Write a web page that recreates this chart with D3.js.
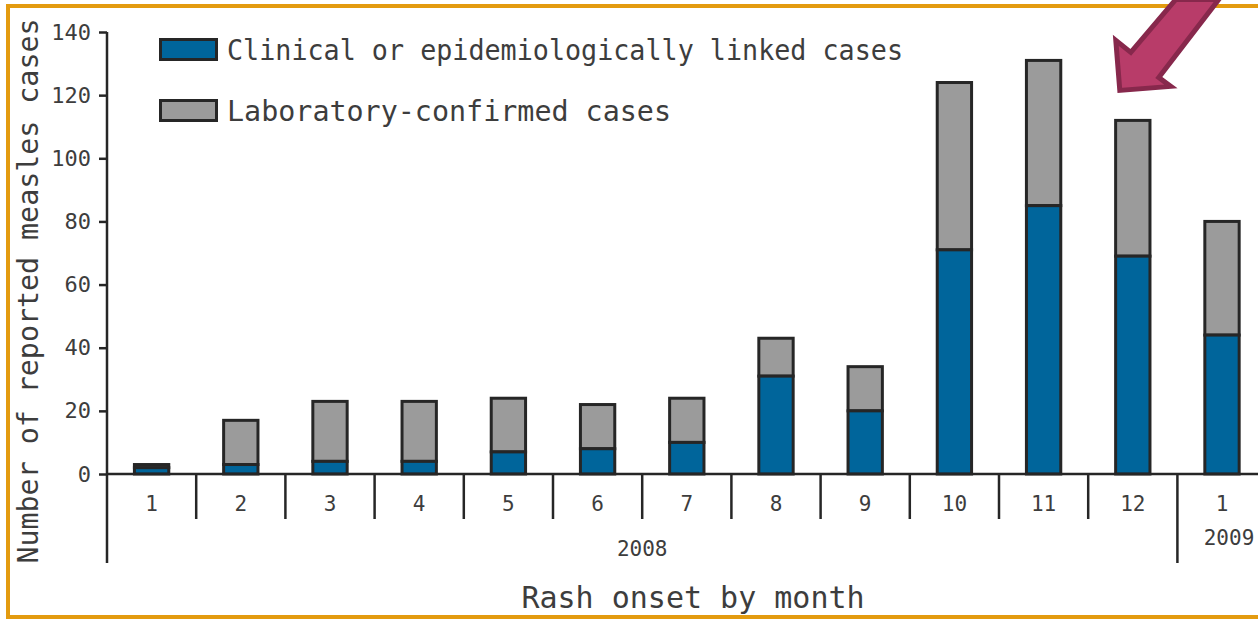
<!DOCTYPE html>
<html>
<head>
<meta charset="utf-8">
<script src="https://cdn.jsdelivr.net/npm/d3@7"></script>
<style>
  body { margin: 0; background: #fff; }
  svg { display: block; }
  text { font-family: "DejaVu Sans Mono", monospace; fill: #3d3d3d; }
</style>
</head>
<body>
<svg class="chart" width="1258" height="619"></svg>
<script>
// categories (month keys) and their labels
var monthKeys = ["2008-01","2008-02","2008-03","2008-04","2008-05","2008-06","2008-07",
                 "2008-08","2008-09","2008-10","2008-11","2008-12","2009-01"];
var monthLabels = ["1","2","3","4","5","6","7","8","9","10","11","12","1"];
var years = ["2008","2009"];
// series values
var clinicalCases = [2, 3, 4, 4, 7, 8, 10, 31, 20, 71, 85, 69, 44];
var labCases      = [1, 14, 19, 19, 17, 14, 14, 12, 14, 53, 46, 43, 36];
var yTicks = [0, 20, 40, 60, 80, 100, 120, 140];
var seriesNames = ["Clinical or epidemiologically linked cases", "Laboratory-confirmed cases"];

var blue = "#00659b", grey = "#9b9b9b", ink = "#262626", orange = "#e39b10";

var chart = d3.select('.chart');

// outer frame
chart.append('path')
	.attr('d', 'M1262,6 L8,6 L8,617 L1262,617')
	.attr('fill', 'none')
	.attr('stroke', orange)
	.attr('stroke-width', 4);

var x0 = 107, yBase = 474, yTop = 32;
var x = d3.scaleBand()
	.domain(monthKeys)
	.range([x0, x0 + 13 * 89.2])
	.padding(0);
var y = d3.scaleLinear()
	.domain([0, 140])
	.range([yBase, yTop]);

var barW = x.bandwidth() * 0.385;

var data = monthKeys.map(function(k, i){
	return {key: k, clin: clinicalCases[i], lab: labCases[i]};
});

// bars
var g = chart.append('g');
data.forEach(function(d){
	var cx = x(d.key) + x.bandwidth() / 2;
	g.append('rect')
		.attr('x', cx - barW / 2)
		.attr('width', barW)
		.attr('y', y(d.clin + d.lab))
		.attr('height', y(d.clin) - y(d.clin + d.lab))
		.attr('fill', grey)
		.attr('stroke', ink)
		.attr('stroke-width', 3);
	g.append('rect')
		.attr('x', cx - barW / 2)
		.attr('width', barW)
		.attr('y', y(d.clin))
		.attr('height', y(0) - y(d.clin))
		.attr('fill', blue)
		.attr('stroke', ink)
		.attr('stroke-width', 3);
});

// y axis
var yAxis = d3.axisLeft(y).tickValues(yTicks).tickSize(8).tickPadding(8);
var ya = chart.append('g')
	.attr('class', 'y axis')
	.attr('transform', 'translate(' + x0 + ',0)')
	.call(yAxis);
ya.select('.domain').remove();
ya.selectAll('line').attr('stroke', ink).attr('stroke-width', 2.5);
ya.selectAll('text')
	.attr('font-size', '22px')
	.style('font-family', '"DejaVu Sans Mono", monospace')
	.attr('fill', '#3d3d3d');
chart.append('line')
	.attr('x1', x0).attr('x2', x0)
	.attr('y1', y(140)).attr('y2', 563)
	.attr('stroke', ink).attr('stroke-width', 2.5);

// x axis line and month separators
chart.append('line')
	.attr('x1', x0).attr('x2', 1262)
	.attr('y1', y(0)).attr('y2', y(0))
	.attr('stroke', ink).attr('stroke-width', 2.5);
monthKeys.slice(1).forEach(function(k){
	var isYear = k.slice(5) === "01";
	chart.append('line')
		.attr('x1', x(k)).attr('x2', x(k))
		.attr('y1', y(0)).attr('y2', isYear ? 563 : 519)
		.attr('stroke', ink).attr('stroke-width', 2.5);
});
monthKeys.forEach(function(k, i){
	chart.append('text')
		.attr('x', x(k) + x.bandwidth() / 2)
		.attr('y', 511)
		.attr('text-anchor', 'middle')
		.attr('font-size', '21px')
		.text(monthLabels[i]);
});
chart.append('text')
	.attr('x', (x0 + x("2009-01")) / 2)
	.attr('y', 556)
	.attr('text-anchor', 'middle')
	.attr('font-size', '21px')
	.text(years[0]);
chart.append('text')
	.attr('x', x("2009-01") + x.bandwidth() / 2 + 7)
	.attr('y', 545)
	.attr('text-anchor', 'middle')
	.attr('font-size', '21px')
	.text(years[1]);

// axis titles
chart.append('text')
	.attr('x', 693)
	.attr('y', 608)
	.attr('text-anchor', 'middle')
	.attr('font-size', '30px')
	.text('Rash onset by month');
chart.append('text')
	.attr('transform', 'translate(38,291) rotate(-90)')
	.attr('text-anchor', 'middle')
	.attr('font-size', '29px')
	.attr('textLength', 545)
	.attr('lengthAdjust', 'spacingAndGlyphs')
	.text('Number of reported measles cases');

// legend
var legend = chart.append('g');
[blue, grey].forEach(function(c, i){
	legend.append('rect')
		.attr('x', 160.5).attr('y', 39.5 + i * 61)
		.attr('width', 56).attr('height', 20)
		.attr('fill', c).attr('stroke', ink).attr('stroke-width', 3);
	legend.append('text')
		.attr('x', 227).attr('y', 60 + i * 61)
		.attr('font-size', '29px')
		.attr('textLength', i === 0 ? 676 : 444)
		.attr('lengthAdjust', 'spacingAndGlyphs')
		.text(seriesNames[i]);
});

// arrow pointing at December
var tipX = x("2008-12") + x.bandwidth() / 2 - 13,
	tipY = y(clinicalCases[11] + labCases[11]) - 30;
var arrowPts = [[0,0],[-4,-50],[11,-38],[56,-91],[99,-91],[39,-13],[51,-4]];
chart.append('path')
	.attr('d', d3.line()(arrowPts.map(function(p){ return [tipX + p[0], tipY + p[1]]; })) + 'Z')
	.attr('fill', '#b83c69')
	.attr('stroke', '#87284c')
	.attr('stroke-width', 5)
	.attr('stroke-linejoin', 'miter');
</script>
</body>
</html>
